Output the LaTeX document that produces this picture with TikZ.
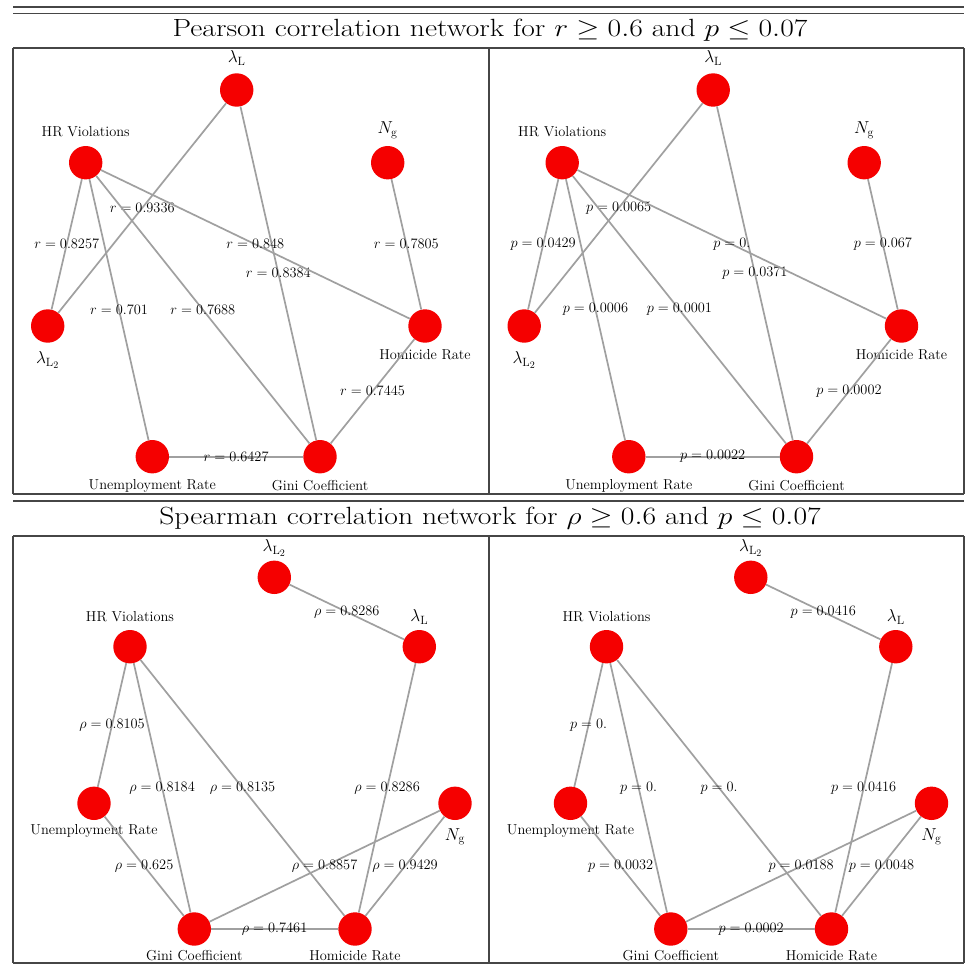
\documentclass[tikz,border=0pt]{standalone}
\definecolor{nodered}{RGB}{245,0,0}
\definecolor{edgegray}{RGB}{160,160,160}
\definecolor{rulegray}{RGB}{70,70,70}
\tikzset{
  vtx/.style={circle, fill=nodered, draw=none, minimum size=33.4pt, inner sep=0pt},
  edge/.style={draw=edgegray, line width=1.7pt},
  elab/.style={font=\fontsize{14.4}{16}\selectfont, inner sep=0pt},
  vlab/.style={font=\fontsize{14.4}{16}\selectfont, inner sep=0pt},
  mlab/.style={font=\fontsize{17.28}{20}\selectfont, inner sep=0pt},
  tablerule/.style={draw=rulegray, line width=1.1pt},
  ttl/.style={font=\fontsize{24.88}{30}\selectfont, inner sep=0pt, xscale=1.19, transform shape}
}
\newcommand{\pf}{a}
\newcommand{\topnodes}{%
  \node[vtx] (\pf LL) at (236.7,90) {};
  \node[vtx] (\pf HR) at (85.7,162.7) {};
  \node[vtx] (\pf NG) at (387.7,162.7) {};
  \node[vtx] (\pf L2) at (47.7,326) {};
  \node[vtx] (\pf HO) at (425,326) {};
  \node[vtx] (\pf UN) at (152.3,456.7) {};
  \node[vtx] (\pf GI) at (320,456.7) {};
  \node[mlab] (\pf LLt) at (236.7,58) {$\lambda_{\mathrm{L}}$};
  \node[vlab] (\pf HRt) at (85.7,131.7) {HR Violations};
  \node[mlab] (\pf NGt) at (387.7,130) {$N_{\mathrm{g}}$};
  \node[mlab] (\pf L2t) at (47.7,360) {$\lambda_{\mathrm{L}_2}$};
  \node[vlab] (\pf HOt) at (425,354.3) {Homicide Rate};
  \node[vlab] (\pf UNt) at (152.3,485.7) {Unemployment Rate};
  \node[vlab] (\pf GIt) at (320,485.7) {Gini Coefficient};
}
\newcommand{\botnodes}{%
  \node[vtx] (\pf L2) at (274.3,577.3) {};
  \node[vtx] (\pf LL) at (419.3,646.7) {};
  \node[vtx] (\pf HR) at (130,646.7) {};
  \node[vtx] (\pf UN) at (94,803.3) {};
  \node[vtx] (\pf NG) at (455,803.3) {};
  \node[vtx] (\pf GI) at (194.3,929) {};
  \node[vtx] (\pf HO) at (355,929) {};
  \node[mlab] (\pf L2t) at (274.3,548.3) {$\lambda_{\mathrm{L}_2}$};
  \node[mlab] (\pf LLt) at (419.3,616.7) {$\lambda_{\mathrm{L}}$};
  \node[vlab] (\pf HRt) at (130,616.7) {HR Violations};
  \node[vlab] (\pf UNt) at (94,830.7) {Unemployment Rate};
  \node[mlab] (\pf NGt) at (455,836.7) {$N_{\mathrm{g}}$};
  \node[vlab] (\pf GIt) at (194.3,955.7) {Gini Coefficient};
  \node[vlab] (\pf HOt) at (355,955.7) {Homicide Rate};
}
\newcommand{\topedges}[9]{%
  \draw[edge] (\pf LL) -- node[elab]{$#1$} (\pf L2);
  \draw[edge] (\pf LL) -- node[elab]{$#2$} (\pf GI);
  \draw[edge] (\pf HR) -- node[elab]{$#3$} (\pf L2);
  \draw[edge] (\pf HR) -- node[elab]{$#4$} (\pf UN);
  \draw[edge] (\pf HR) -- node[elab]{$#5$} (\pf GI);
  \draw[edge] (\pf HR) -- node[elab]{$#6$} (\pf HO);
  \draw[edge] (\pf NG) -- node[elab]{$#7$} (\pf HO);
  \draw[edge] (\pf HO) -- node[elab]{$#8$} (\pf GI);
  \draw[edge] (\pf UN) -- node[elab]{$#9$} (\pf GI);
}
\newcommand{\botedges}[9]{%
  \draw[edge] (\pf L2) -- node[elab]{$#1$} (\pf LL);
  \draw[edge] (\pf HR) -- node[elab]{$#2$} (\pf UN);
  \draw[edge] (\pf HR) -- node[elab]{$#3$} (\pf GI);
  \draw[edge] (\pf HR) -- node[elab]{$#4$} (\pf HO);
  \draw[edge] (\pf LL) -- node[elab]{$#5$} (\pf HO);
  \draw[edge] (\pf UN) -- node[elab]{$#6$} (\pf GI);
  \draw[edge] (\pf GI) -- node[elab]{$#7$} (\pf NG);
  \draw[edge] (\pf NG) -- node[elab]{$#8$} (\pf HO);
  \draw[edge] (\pf GI) -- node[elab]{$#9$} (\pf HO);
}
\begin{document}
\begin{tikzpicture}[x=1pt, y=-1pt]
\useasboundingbox (0,0) rectangle (965,964);
\fill[white] (0,0) rectangle (965,964);
% table rules
\foreach \yy in {7,13.7,48,494,501,536,963}
  \draw[tablerule] (13,\yy) -- (964,\yy);
\foreach \xx in {13,489,964} {
  \draw[tablerule] (\xx,48) -- (\xx,494);
  \draw[tablerule] (\xx,536) -- (\xx,963);
}
% titles
\node[ttl] (title1) at (490,30.5) {Pearson correlation network for $r \geq 0.6$ and $p \leq 0.07$};
\node[ttl] (title2) at (490,518) {Spearman correlation network for $\rho \geq 0.6$ and $p \leq 0.07$};
% panels
\renewcommand{\pf}{a}
\topnodes
\topedges{r=0.9336}{r=0.8384}{r=0.8257}{r=0.701}{r=0.7688}{r=0.848}{r=0.7805}{r=0.7445}{r=0.6427}
\renewcommand{\pf}{b}
\begin{scope}[xshift=476.5pt]
\topnodes
\end{scope}
\topedges{p=0.0065}{p=0.0371}{p=0.0429}{p=0.0006}{p=0.0001}{p=0.}{p=0.067}{p=0.0002}{p=0.0022}
\renewcommand{\pf}{c}
\botnodes
\botedges{\rho=0.8286}{\rho=0.8105}{\rho=0.8184}{\rho=0.8135}{\rho=0.8286}{\rho=0.625}{\rho=0.8857}{\rho=0.9429}{\rho=0.7461}
\renewcommand{\pf}{d}
\begin{scope}[xshift=476.5pt]
\botnodes
\end{scope}
\botedges{p=0.0416}{p=0.}{p=0.}{p=0.}{p=0.0416}{p=0.0032}{p=0.0188}{p=0.0048}{p=0.0002}
\end{tikzpicture}
\end{document}
